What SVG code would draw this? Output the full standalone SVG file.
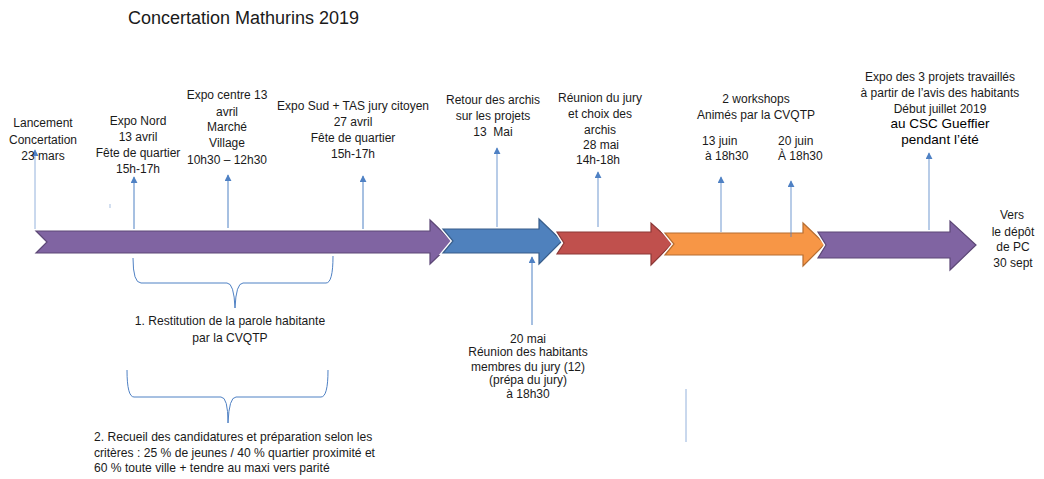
<svg xmlns="http://www.w3.org/2000/svg" width="1044" height="479" viewBox="0 0 1044 479">
<style>
  .t { font-family: "Liberation Sans", Arial, sans-serif; font-size: 12px; fill: #1a1a1a; text-anchor: middle; }
  .s { font-size: 12.1px; }
  .l { text-anchor: start; }
  .b { font-size: 13.5px; fill: #000; }
  .title { font-family: "Liberation Sans", Arial, sans-serif; font-size: 18px; fill: #1a1a1a; }
  .ln { stroke: #4f81c4; stroke-width: 1; fill: none; }
  .br { stroke: #4f81c4; stroke-width: 1; fill: none; }
  .arr { stroke-width: 1.2; stroke-linejoin: miter; paint-order: normal; }
  .halo { fill: none; stroke: #ffffff; stroke-width: 4; stroke-linejoin: miter; }
</style>
<defs>
  <marker id="ah" viewBox="0 0 8 8" refX="7" refY="4" markerWidth="7" markerHeight="7" markerUnits="userSpaceOnUse" orient="auto">
    <path d="M0,0 L8,4 L0,8 Z" fill="#4f81c4"/>
  </marker>
  <path id="p1" d="M36,231 L430,231 L430,220 L453,242 L430,264 L430,253 L36,253 L47,242 Z"/>
  <path id="p2" d="M443,229 L539,229 L539,219 L562,241 L539,264 L539,253 L443,253 L453,241 Z"/>
  <path id="p3" d="M557,232 L651,232 L651,223 L673,243 L651,265 L651,254 L557,254 L564,243 Z"/>
  <path id="p4" d="M665,233 L803,233 L803,223 L825,244 L803,266 L803,255 L665,255 L674,244 Z"/>
  <path id="p5" d="M818,232 L950,232 L950,221 L976,245 L950,270 L950,258 L818,258 L826,245 Z"/>
</defs>
<rect width="1044" height="479" fill="#ffffff"/>
<text class="title" x="128" y="24">Concertation Mathurins 2019</text>

<g id="timeline-arrows">
  <g id="arrow1">
    <use href="#p1" class="halo"/>
    <use href="#p1" class="arr" fill="#8064a2" stroke="#5c4776"/>
  </g>
  <g id="arrow2">
    <use href="#p2" class="halo"/>
    <use href="#p2" class="arr" fill="#4f81bd" stroke="#385d8a"/>
  </g>
  <g id="arrow3">
    <use href="#p3" class="halo"/>
    <use href="#p3" class="arr" fill="#c0504d" stroke="#8c3836"/>
  </g>
  <g id="arrow4">
    <use href="#p4" class="halo"/>
    <use href="#p4" class="arr" fill="#f79646" stroke="#b66d31"/>
  </g>
  <g id="arrow5">
    <use href="#p5" class="halo"/>
    <use href="#p5" class="arr" fill="#8064a2" stroke="#5c4776"/>
  </g>
</g>

<g id="connectors">
  <line class="ln" x1="35" y1="229" x2="35" y2="150" marker-end="url(#ah)" stroke-opacity="0.6"/>
  <line class="ln" x1="134" y1="229" x2="134" y2="177" marker-end="url(#ah)"/>
  <line class="ln" x1="110" y1="204" x2="110" y2="208" stroke-opacity="0.5"/>
  <line class="ln" x1="228" y1="228" x2="228" y2="175" marker-end="url(#ah)"/>
  <line class="ln" x1="363" y1="229" x2="363" y2="176" marker-end="url(#ah)"/>
  <line class="ln" x1="497" y1="227" x2="497" y2="148" marker-end="url(#ah)" stroke-opacity="0.8"/>
  <line class="ln" x1="532" y1="325" x2="532" y2="257" marker-end="url(#ah)"/>
  <line class="ln" x1="598" y1="227" x2="598" y2="172" marker-end="url(#ah)" stroke-opacity="0.8"/>
  <line class="ln" x1="721" y1="232" x2="721" y2="177" marker-end="url(#ah)" stroke-opacity="0.8"/>
  <line class="ln" x1="791" y1="237" x2="791" y2="181" marker-end="url(#ah)" stroke-opacity="0.8"/>
  <line class="ln" x1="929" y1="230" x2="929" y2="153" marker-end="url(#ah)" stroke-opacity="0.8"/>
  <line class="ln" x1="686" y1="389" x2="686" y2="442" stroke-opacity="0.6"/>
  <path class="br" d="M133,258 Q133,283 141,283 L227,283 Q234,283 235,308 Q236,283 243,283 L326,283 Q333,283 333,256"/>
  <path class="br" d="M127,370 Q127,397 134,397 L221,397 Q228,397 228,423 Q229,397 236,397 L321,397 Q328,397 328,370"/>
</g>

<g id="n-lancement">
  <text class="t" x="43" y="127">Lancement</text>
  <text class="t" x="43" y="144">Concertation</text>
  <text class="t" x="43" y="160">23 mars</text>
</g>
<g id="n-expo-nord">
  <text class="t" x="138" y="125">Expo Nord</text>
  <text class="t" x="138" y="141">13 avril</text>
  <text class="t" x="138" y="157">Fête de quartier</text>
  <text class="t" x="138" y="173">15h-17h</text>
</g>
<g id="n-expo-centre">
  <text class="t" x="227" y="99">Expo centre 13</text>
  <text class="t" x="227" y="116">avril</text>
  <text class="t" x="227" y="131">Marché</text>
  <text class="t" x="227" y="147">Village</text>
  <text class="t" x="227" y="164">10h30 – 12h30</text>
</g>
<g id="n-expo-sud">
  <text class="t" x="353" y="110">Expo Sud + TAS jury citoyen</text>
  <text class="t" x="353" y="126">27 avril</text>
  <text class="t" x="353" y="142">Fête de quartier</text>
  <text class="t" x="353" y="158">15h-17h</text>
</g>
<g id="n-retour">
  <text class="t" x="493" y="104">Retour des archis</text>
  <text class="t" x="493" y="120">sur les projets</text>
  <text class="t" x="493" y="136">13&#160; Mai</text>
</g>
<g id="n-reunion-jury">
  <text class="t" x="600" y="102">Réunion du jury</text>
  <text class="t" x="600" y="118">et choix des</text>
  <text class="t" x="600" y="134">archis</text>
  <text class="t" x="601" y="149">28 mai</text>
  <text class="t" x="598" y="164">14h-18h</text>
</g>
<g id="n-workshops">
  <text class="t" x="756" y="103">2 workshops</text>
  <text class="t" x="756" y="119">Animés par la CVQTP</text>
  <text class="t l" x="702" y="145">13 juin</text>
  <text class="t l" x="705" y="160">à 18h30</text>
  <text class="t l" x="778" y="145">20 juin</text>
  <text class="t l" x="778" y="160">À 18h30</text>
</g>
<g id="n-expo-projets">
  <text class="t" x="940" y="81">Expo des 3 projets travaillés</text>
  <text class="t" x="940" y="97">à partir de l’avis des habitants</text>
  <text class="t" x="940" y="113">Début juillet 2019</text>
  <text class="t b" x="940" y="128">au CSC Gueffier</text>
  <text class="t b" x="940" y="144">pendant l’été</text>
</g>
<g id="n-depot">
  <text class="t" x="1012" y="219">Vers</text>
  <text class="t" x="1013" y="236">le dépôt</text>
  <text class="t" x="1013" y="251">de PC</text>
  <text class="t" x="1013" y="267">30 sept</text>
</g>
<g id="n-20mai">
  <text class="t" x="528" y="343">20 mai</text>
  <text class="t" x="528" y="356">Réunion des habitants</text>
  <text class="t" x="528" y="371">membres du jury (12)</text>
  <text class="t" x="528" y="384">(prépa du jury)</text>
  <text class="t" x="528" y="398">à 18h30</text>
</g>
<g id="n-restitution">
  <text class="t s" x="230" y="325">1. Restitution de la parole habitante</text>
  <text class="t s" x="230" y="342">par la CVQTP</text>
</g>
<g id="n-recueil">
  <text class="t s l" x="94" y="441">2. Recueil des candidatures et préparation selon les</text>
  <text class="t s l" x="94" y="457">critères : 25 % de jeunes / 40 % quartier proximité et</text>
  <text class="t s l" x="94" y="472">60 % toute ville + tendre au maxi vers parité</text>
</g>
</svg>
